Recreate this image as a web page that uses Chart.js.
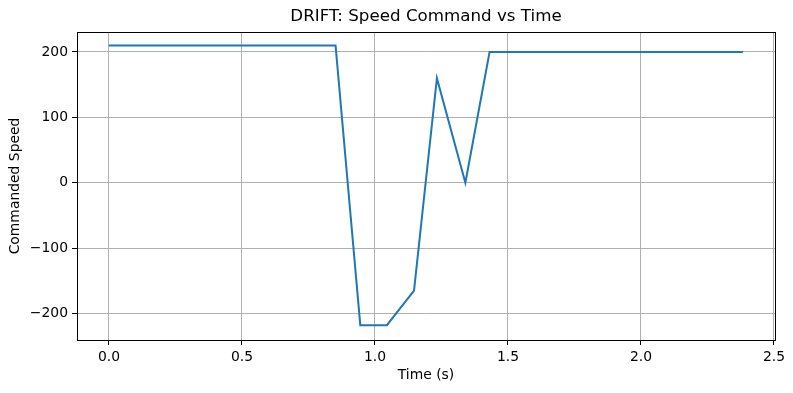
<!DOCTYPE html>
<html>
<head>
<meta charset="utf-8">
<script src="https://cdn.jsdelivr.net/npm/chart.js@4.4.0/dist/chart.umd.min.js"></script>
<style>
  html, body { margin: 0; padding: 0; background: #fff; }
  #wrap { width: 793px; height: 393px; }
</style>
</head>
<body>
<div id="wrap"><canvas id="chart" width="793" height="393"></canvas></div>
<script>
// ---------- Data ----------
const timeS   = [0, 0.852, 0.945, 1.045, 1.147, 1.233, 1.34, 1.431, 2.383];
const speedCmd = [210, 210, -218, -218, -165, 160, 0, 200, 200];
const xTicks = [0, 0.5, 1.0, 1.5, 2.0, 2.5];
const yTicks = [-200, -100, 0, 100, 200];
const chartTitle = 'DRIFT: Speed Command vs Time';

const FONT = 'DejaVu Sans';
const GRID = '#b0b0b0';

// matplotlib draws a full box round the axes, and centres the title over the axes
const frame = {
  id: 'frame',
  afterDraw(chart) {
    const { ctx, chartArea: a } = chart;
    ctx.save();
    ctx.strokeStyle = '#000';
    ctx.lineWidth = 1;
    ctx.strokeRect(Math.round(a.left) + 0.5, Math.round(a.top) + 0.5,
                   Math.round(a.right - a.left), Math.round(a.bottom - a.top));
    ctx.fillStyle = '#000';
    ctx.font = `16.7px "${FONT}"`;
    ctx.textAlign = 'center';
    ctx.textBaseline = 'middle';
    ctx.fillText(chartTitle, (a.left + a.right) / 2, 17);
    ctx.restore();
  }
};

const minus = v => v < 0 ? '\u2212' + Math.abs(v) : String(v);

new Chart(document.getElementById('chart'), {
  type: 'scatter',
  data: {
    datasets: [{
      data: timeS.map((t, i) => ({ x: t, y: speedCmd[i] })),
      showLine: true,
      borderColor: '#1f77b4',
      borderWidth: 2,
      pointRadius: 0,
      tension: 0
    }]
  },
  options: {
    responsive: false,
    animation: false,
    layout: { padding: { left: 0, right: 18, top: 32, bottom: 0 } },
    plugins: {
      legend: { display: false },
      tooltip: { enabled: false },
      title: { display: false }
    },
    scales: {
      x: {
        type: 'linear',
        min: -0.12, max: 2.504,
        afterBuildTicks: s => { s.ticks = xTicks.map(v => ({ value: v })); },
        afterFit: s => { s.height = 53; },
        ticks: {
          includeBounds: false,
          color: '#000',
          padding: 4,
          maxRotation: 0,
          font: { family: FONT, size: 13.9 },
          callback: v => v.toFixed(1)
        },
        grid: { color: GRID, lineWidth: 1, tickColor: '#000', tickLength: 5 },
        border: { color: '#000', width: 1 },
        title: {
          display: true, text: 'Time (s)', color: '#000',
          font: { family: FONT, size: 13.9 },
          padding: { top: 0, bottom: 9 }
        }
      },
      y: {
        min: -240.7, max: 230.6,
        afterBuildTicks: s => { s.ticks = yTicks.map(v => ({ value: v })); },
        afterFit: s => { s.width = 77; },
        ticks: {
          includeBounds: false,
          color: '#000',
          padding: 4,
          font: { family: FONT, size: 13.9 },
          callback: v => minus(v)
        },
        grid: { color: GRID, lineWidth: 1, tickColor: '#000', tickLength: 5 },
        border: { color: '#000', width: 1 },
        title: {
          display: true, text: 'Commanded Speed', color: '#000',
          font: { family: FONT, size: 13.9 },
          padding: { top: 7, bottom: 0 }
        }
      }
    }
  },
  plugins: [frame]
});
</script>
</body>
</html>
